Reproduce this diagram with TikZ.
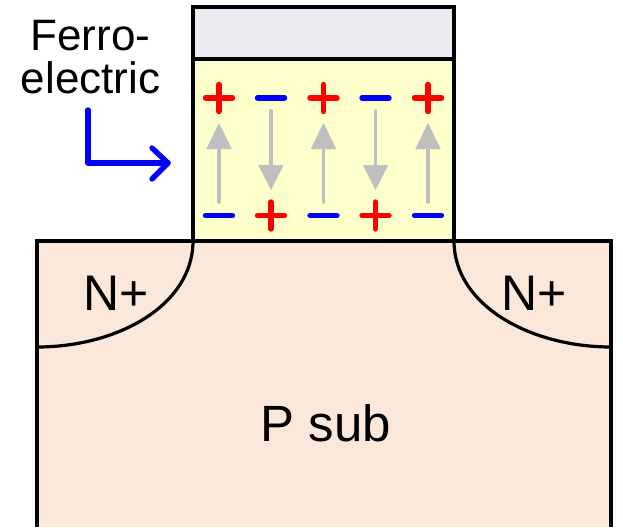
\documentclass[tikz,border=0pt]{standalone}
\usepackage{fontspec}
\setmainfont{Liberation Sans}
\usetikzlibrary{arrows.meta}
\definecolor{capfill}{HTML}{ECEAF1}
\definecolor{ferrofill}{HTML}{FFFFCC}
\definecolor{subfill}{HTML}{FCE8DB}
\definecolor{dipole}{HTML}{BFBFBF}
\tikzset{
  outline/.style={draw=black,line width=3.7pt},
  junction/.style={draw=black,line width=3.2pt},
  chargeplus/.style={draw=red,line width=5.4pt,line cap=round},
  chargeminus/.style={draw=blue,line width=5.4pt,line cap=round},
  dipoleline/.style={draw=dipole,line width=3.8pt,line cap=round},
  dipolehead/.style={fill=dipole},
  pointer/.style={draw=blue,line width=5.4pt,line cap=round,line join=round},
  labeltext/.style={inner sep=0pt,align=center,text=black},
}
\newcommand{\chargeP}[2]{\path[chargeplus] (#1-13.5,#2) -- (#1+13.5,#2) (#1,#2-13.5) -- (#1,#2+13.5);}
\newcommand{\chargeM}[2]{\path[chargeminus] (#1-13.5,#2) -- (#1+13.5,#2);}
\newcommand{\dipUp}[1]{\path[dipoleline] (#1,202) -- (#1,140);\fill[dipolehead] (#1,123) -- (#1+12.7,149) -- (#1-12.7,149) -- cycle;}
\newcommand{\dipDown}[1]{\path[dipoleline] (#1,111) -- (#1,172);\fill[dipolehead] (#1,190) -- (#1+12.7,165) -- (#1-12.7,165) -- cycle;}
\begin{document}
\begin{tikzpicture}[x=1pt,y=-1pt]
\useasboundingbox (0,0) rectangle (623,527);
% substrate
\fill[subfill] (37,241) rectangle (611,527);
% gate stack
\fill[capfill] (193,7) rectangle (454,59);
\fill[ferrofill] (193,59) rectangle (454,241);
\path[outline] (193,241) -- (193,7) -- (454,7) -- (454,241);
\path[outline] (193,59) -- (454,59);
\path[outline] (37,527) -- (37,241) -- (611,241) -- (611,527);
% junctions
\path[junction] (193,241) .. controls (193,305) and (118,347) .. (37,347);
\path[junction] (454,241) .. controls (454,305) and (530,347) .. (611,347);
% dipoles
\dipUp{219}
\dipDown{271}
\dipUp{323.5}
\dipDown{375.5}
\dipUp{428}
% charges
\chargeP{219}{98}
\chargeM{271}{98}
\chargeP{323.5}{98}
\chargeM{375.5}{98}
\chargeP{428}{98}
\chargeM{219}{215.5}
\chargeP{271}{215.5}
\chargeM{323.5}{215.5}
\chargeP{375.5}{215.5}
\chargeM{428}{215.5}
% labels
\node[labeltext,font=\fontsize{44}{43}\selectfont] (ferro) at (90.5,57) {Ferro-\\[-0.5pt]electric};
\node[labeltext,font=\fontsize{50}{50}\selectfont] (nleft) at (116.5,293) {N+};
\node[labeltext,font=\fontsize{50}{50}\selectfont] (nright) at (534.5,293) {N+};
\node[labeltext,font=\fontsize{51}{51}\selectfont] (psub) at (326,423) {P sub};
% pointer
\coordinate (ptstart) at (88,110);
\coordinate (ptcorner) at (88,163);
\coordinate (pttip) at (168,163);
\path[pointer] (ptstart) -- (ptcorner) -- (pttip);
\path[pointer] (152,148) -- (pttip) -- (152,179);
\end{tikzpicture}
\end{document}
